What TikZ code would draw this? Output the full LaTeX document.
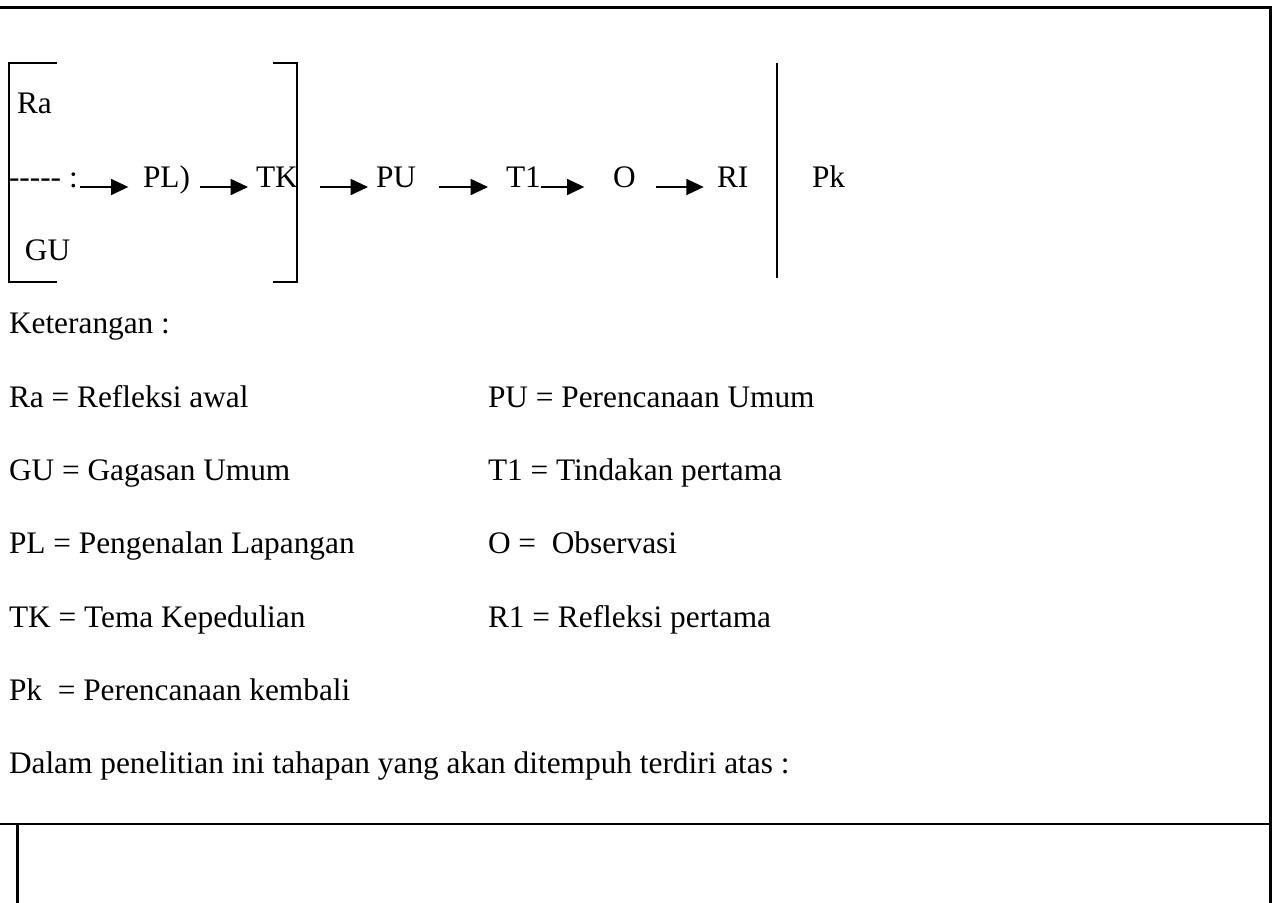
\documentclass[tikz,border=0pt]{standalone}
\usepackage{fontspec}
\setmainfont{Liberation Serif}
\usetikzlibrary{arrows.meta}
\begin{document}
\begin{tikzpicture}[x=0.75pt,y=-0.75pt,
  every node/.style={inner sep=0pt,outer sep=0pt,anchor=base west,font=\fontsize{23.5pt}{28pt}\selectfont},
  frame/.style={line width=1.6pt},
  thick frame/.style={line width=2.2pt},
  brack/.style={line width=1.1pt},
  arr/.style={line width=1.3pt,-{Triangle[length=13pt,width=12pt]}}]
\useasboundingbox (0,0) rectangle (1272,903);
% outer frame
\draw[frame] (0,7.5) -- (1270.5,7.5) -- (1270.5,903);
\draw[thick frame] (0,824) -- (1272,824);
\draw[frame] (17.5,824) -- (17.5,903);
% brackets
\draw[brack] (57,63) -- (9,63) -- (9,282) -- (57,282);
\draw[brack] (273,63) -- (297,63) -- (297,282) -- (273,282);
\draw[brack] (777,63) -- (777,278);
% diagram texts
\node (ra) at (17,113) {Ra};
\node (gu) at (25,260) {GU};
\node (start) at (9,187) {-{}-{}-{}-{}- :};
\node (pl) at (143,187) {PL)};
\node (tk) at (256,187) {TK};
\node (pu) at (376,187) {PU};
\node (t1) at (506,187) {T1};
\node (o) at (613,187) {O};
\node (ri) at (717,187) {RI};
\node (pk) at (812,187) {Pk};
% arrows
\draw[arr,shorten <=2pt,shorten >=11pt] (start.base east) -- (pl.base west);
\draw[arr,shorten <=7.5pt,shorten >=6pt] (pl.base east) -- (tk.base west);
\draw[arr,shorten <=17pt,shorten >=6pt] (tk.base east) -- (pu.base west);
\draw[arr,shorten <=17pt,shorten >=13.5pt] (pu.base east) -- (t1.base west);
\draw[arr,shorten <=0pt,shorten >=21.5pt] (t1.base east) -- (o.base west);
\draw[arr,shorten <=15.5pt,shorten >=10pt] (o.base east) -- (ri.base west);
% legend
\node (ket) at (9,333) {Keterangan :};
\node (l1) at (9,407) {Ra = Refleksi awal};
\node (l2) at (9,480) {GU = Gagasan Umum};
\node (l3) at (9,553) {PL = Pengenalan Lapangan};
\node (l4) at (9,627) {TK = Tema Kepedulian};
\node (l5) at (9,700) {Pk ~= Perencanaan kembali};
\node (r1) at (488,407) {PU = Perencanaan Umum};
\node (r2) at (488,480) {T1 = Tindakan pertama};
\node (r3) at (488,553) {O = ~Observasi};
\node (r4) at (488,627) {R1 = Refleksi pertama};
\node (dalam) at (9,773) {Dalam penelitian ini tahapan yang akan ditempuh terdiri atas :};
\end{tikzpicture}
\end{document}
